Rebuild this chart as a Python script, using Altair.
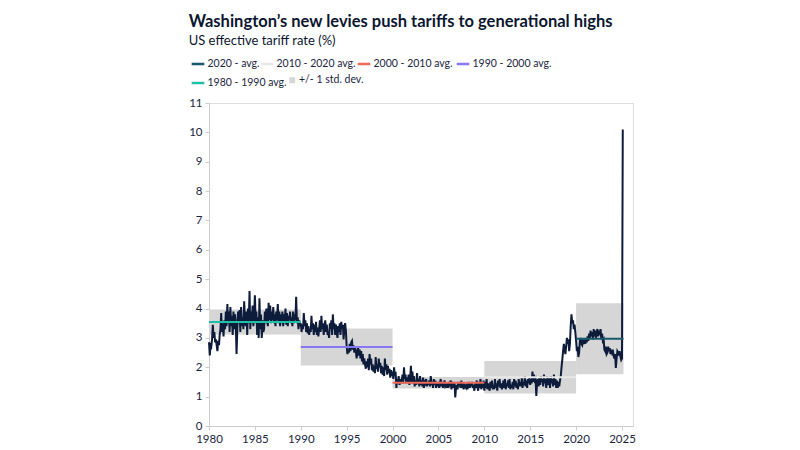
import altair as alt
import pandas as pd

# Monthly US effective tariff rate (%)
rate_1980s = [
    2.85, 2.4, 2.75, 2.7, 2.95, 3.45, 3.0, 3.2, 2.85, 2.95, 2.75, 2.55,
    2.9, 2.75, 3.1, 3.3, 3.85, 3.2, 3.5, 3.05, 3.6, 3.3, 3.9, 3.4,
    4.15, 3.5, 3.9, 3.2, 4.05, 3.4, 3.75, 3.1, 3.9, 3.3, 3.8, 3.5,
    2.45, 3.3, 3.9, 3.5, 3.95, 3.2, 4.05, 3.4, 3.7, 3.3, 4.25, 3.6,
    3.4, 3.9, 3.1, 4.0, 3.5, 4.6, 3.3, 3.9, 3.5, 4.1, 3.4, 3.8,
    4.45, 3.5, 3.9, 3.1, 3.7, 3.0, 4.35, 3.3, 3.8, 3.0, 3.6, 3.2,
    3.3, 3.9, 3.5, 4.0, 3.6, 3.4, 4.2, 3.6, 4.1, 3.5, 3.9, 3.6,
    4.05, 3.5, 3.8, 3.4, 3.9, 3.6, 4.15, 3.5, 3.9, 3.4, 3.8, 3.5,
    3.9, 3.4, 3.8, 3.5, 4.0, 3.45, 3.85, 3.4, 3.75, 3.6, 3.9, 3.5,
    3.7, 3.4, 3.9, 3.5, 3.8, 3.6, 4.4, 3.5, 3.7, 3.3, 3.6, 3.4,
]
rate_1990s = [
    3.5, 3.2, 3.45, 3.3, 3.85, 3.4, 3.6, 3.2, 3.5, 3.15, 3.4, 3.1,
    3.3, 3.2, 3.75, 3.3, 3.5, 3.1, 3.45, 3.2, 3.55, 3.1, 3.35, 3.05,
    3.3, 3.6, 3.2, 3.75, 3.3, 3.5, 3.1, 3.4, 3.6, 3.2, 3.45, 3.1,
    3.2, 3.0, 3.5, 3.3, 3.6, 3.1, 3.8, 3.3, 3.5, 3.1, 3.45, 3.2,
    3.0, 3.4, 3.2, 3.5, 3.1, 3.55, 3.3, 3.45, 2.95, 3.3, 3.5, 3.25,
    2.7, 2.45, 2.6, 2.5, 2.8, 2.55, 2.85, 2.9, 2.6, 2.75, 2.5, 2.65,
    2.55, 2.3, 2.5, 2.7, 2.4, 2.6, 2.3, 2.55, 2.2, 2.45, 2.1, 2.3,
    2.1, 1.95, 2.2, 2.0, 2.3, 1.9, 2.45, 2.1, 2.3, 1.9, 2.1, 1.85,
    2.05, 1.8, 2.35, 1.95, 2.1, 1.85, 2.3, 2.0, 2.15, 1.8, 2.05, 1.75,
    2.0, 1.7, 2.3, 1.9, 2.1, 1.75, 2.05, 1.8, 1.95, 1.65, 1.9, 1.7,
]
rate_2000s = [
    1.85, 1.6, 2.0, 1.7, 1.85, 1.3, 1.6, 1.45, 1.7, 1.4, 1.6, 1.5,
    1.55, 1.75, 1.45, 2.0, 1.6, 1.75, 1.45, 1.65, 1.5, 1.75, 1.4, 1.6,
    2.05, 1.5, 1.85, 1.45, 1.7, 1.35, 1.55, 1.4, 1.8, 1.45, 1.6, 1.35,
    1.7, 1.4, 1.55, 1.35, 1.65, 1.3, 1.5, 1.45, 1.6, 1.35, 1.5, 1.4,
    1.55, 1.35, 1.7, 1.4, 1.5, 1.3, 1.6, 1.4, 1.55, 1.3, 1.45, 1.35,
    1.5, 1.3, 1.45, 1.6, 1.35, 1.5, 1.3, 1.45, 1.55, 1.35, 1.4, 1.3,
    1.45, 1.3, 1.5, 1.35, 1.55, 1.25, 1.45, 1.4, 1.3, 1.5, 0.97, 1.3,
    1.4, 1.25, 1.5, 1.35, 1.45, 1.3, 1.55, 1.3, 1.45, 1.25, 1.4, 1.35,
    1.3, 1.45, 1.25, 1.4, 1.5, 1.3, 1.45, 1.35, 1.5, 1.3, 1.4, 1.2,
    1.45, 1.3, 1.55, 1.35, 1.2, 1.5, 1.3, 1.6, 1.25, 1.45, 1.3, 1.55,
]
rate_2010s = [
    1.2, 1.5, 1.3, 1.6, 1.25, 1.45, 1.35, 1.2, 1.5, 1.3, 1.55, 1.25,
    1.4, 1.25, 1.6, 1.3, 1.45, 1.2, 1.55, 1.35, 1.6, 1.3, 1.45, 1.25,
    1.35, 1.55, 1.3, 1.6, 1.25, 1.45, 1.35, 1.55, 1.3, 1.6, 1.25, 1.4,
    1.3, 1.5, 1.25, 1.6, 1.35, 1.55, 1.3, 1.45, 1.25, 1.6, 1.35, 1.5,
    1.35, 1.65, 1.3, 1.5, 1.4, 1.7, 1.35, 1.55, 1.3, 1.6, 1.45, 1.65,
    1.4, 1.6, 1.45, 1.85, 1.5, 1.75, 1.55, 1.6, 1.02, 1.45, 1.6, 1.35,
    1.65, 1.4, 1.7, 1.5, 1.6, 1.35, 1.75, 1.45, 1.6, 1.3, 1.7, 1.5,
    1.4, 1.65, 1.3, 1.7, 1.45, 1.6, 1.35, 1.75, 1.4, 1.6, 1.3, 1.55,
    1.3, 1.5, 1.35, 1.55, 1.7, 2.0, 2.25, 2.55, 2.8, 2.6, 2.45, 2.7,
    3.0, 2.8, 2.95, 2.55, 2.8, 3.4, 3.8, 3.5, 3.6, 3.3, 3.45, 3.2,
]
rate_2020s = [
    2.9, 2.55, 2.7, 2.35, 2.5, 2.9, 3.0, 2.8, 2.75, 2.9, 2.85, 2.95,
    2.8, 2.95, 2.85, 3.05, 2.9, 3.15, 3.0, 3.25, 3.05, 3.2, 2.95, 3.3,
    3.05, 3.25, 3.0, 3.2, 3.3, 3.05, 3.25, 3.1, 3.3, 2.95, 3.15, 2.9,
    2.95, 2.6, 2.55, 2.7, 2.45, 2.5, 2.7, 2.55, 2.65, 2.45, 2.6, 2.5,
    2.6, 2.4, 2.3, 2.45, 1.98, 2.3, 2.55, 2.5, 2.4, 2.55, 2.35, 2.25,
    2.3, 10.1,
]

period_labels = ["1980 - 1990 avg.", "1990 - 2000 avg.", "2000 - 2010 avg.",
                 "2010 - 2020 avg.", "2020 - avg."]
period_colors = ["#1fc1a6", "#8677f2", "#f0695a", "#e8e8e8", "#17586a"]
period_start = ["1980-01-01", "1990-01-01", "2000-01-01", "2010-01-01", "2020-01-01"]
period_end = ["1990-01-01", "2000-01-01", "2010-01-01", "2020-01-01", "2025-03-01"]
period_avg = [3.54, 2.69, 1.475, 1.66, 2.97]
period_sd = [0.425, 0.63, 0.195, 0.55, 1.21]
SD_LABEL = "+/- 1 std. dev."
SD_COLOR = "#d6d6d6"

rates = rate_1980s + rate_1990s + rate_2000s + rate_2010s + rate_2020s
series = pd.DataFrame({
    "date": pd.date_range("1980-01-01", periods=len(rates), freq="MS"),
    "rate": rates,
})
periods = pd.DataFrame({
    "label": period_labels,
    "start": pd.to_datetime(period_start),
    "end": pd.to_datetime(period_end),
    "avg": period_avg,
    "sd": period_sd,
})
periods["lo"] = periods["avg"] - periods["sd"]
periods["hi"] = periods["avg"] + periods["sd"]
periods["box"] = SD_LABEL

FONT = "Lato"
NAVY = "#0e1c3b"
TEXT = "#1b2540"

x_scale = alt.Scale(domain=[alt.DateTime(year=1980, month=1, date=1),
                            alt.DateTime(year=2026, month=3, date=15)], nice=False)
y_scale = alt.Scale(domain=[0, 11], nice=False)

x_axis = alt.Axis(
    title=None, format="%Y", grid=False, labelFont=FONT, labelFontSize=11.5,
    labelColor=TEXT, domainColor="#cccccc", tickColor="#cccccc", tickSize=4,
    labelPadding=3,
    values=[alt.DateTime(year=y, month=1, date=1) for y in range(1980, 2030, 5)],
    labelFlush=False,
)
y_axis = alt.Axis(
    title=None, grid=False, labelFont=FONT, labelFontSize=11.5, labelColor=TEXT,
    domainColor="#cccccc", tickColor="#cccccc", tickSize=4, labelPadding=3,
    values=list(range(0, 12)), labelOverlap=False,
)


def item_legend(x, y, **kw):
    return alt.Legend(orient="none", legendX=x, legendY=y, title=None,
                      labelFont=FONT, labelFontSize=10.5, labelColor=TEXT,
                      labelOffset=1.5, **kw)


ROW1, ROW2 = -47, -28
# legend placement and the channel that carries each period's entry
legend_slots = {
    "2020 - avg.": ("color", -19, ROW1),
    "2010 - 2020 avg.": ("stroke", 50, ROW1),
    "2000 - 2010 avg.": ("strokeDash", 147, ROW1),
    "1990 - 2000 avg.": ("color", 246, ROW1),
    "1980 - 1990 avg.": ("opacity", -19, ROW2),
}

boxes = alt.Chart(periods).mark_rect(opacity=1).encode(
    x=alt.X("start:T", scale=x_scale, axis=x_axis),
    x2="end:T",
    y=alt.Y("lo:Q", scale=y_scale, axis=y_axis),
    y2="hi:Q",
    fill=alt.Fill("box:N", scale=alt.Scale(domain=[SD_LABEL], range=[SD_COLOR]),
                  legend=item_legend(78, ROW2, symbolType="square", symbolSize=36,
                                     symbolStrokeWidth=0)),
)

line = alt.Chart(series).mark_line(color=NAVY, strokeWidth=2).encode(
    x=alt.X("date:T", scale=x_scale, axis=x_axis),
    y=alt.Y("rate:Q", scale=y_scale, axis=y_axis),
)

layers = [boxes, line]
for label, col in zip(period_labels, period_colors):
    channel, lx, ly = legend_slots[label]
    leg = item_legend(lx, ly, symbolType="stroke", symbolSize=160,
                      symbolStrokeWidth=2.5, symbolStrokeColor=col)
    base = alt.Chart(periods).transform_filter(alt.datum.label == label)
    enc = dict(
        x=alt.X("start:T", scale=x_scale, axis=x_axis),
        x2="end:T",
        y=alt.Y("avg:Q", scale=y_scale, axis=y_axis),
    )
    if channel == "color":
        enc["color"] = alt.Color("label:N", scale=alt.Scale(domain=[label], range=[col]),
                                 legend=leg)
        mark = base.mark_rule(strokeWidth=2)
    elif channel == "stroke":
        enc["stroke"] = alt.Stroke("label:N", scale=alt.Scale(domain=[label], range=[col]),
                                   legend=leg)
        mark = base.mark_rule(strokeWidth=2)
    elif channel == "strokeDash":
        enc["strokeDash"] = alt.StrokeDash("label:N",
                                           scale=alt.Scale(domain=[label], range=[[1, 0]]),
                                           legend=leg)
        mark = base.mark_rule(strokeWidth=2, color=col)
    else:
        enc["opacity"] = alt.Opacity("label:O",
                                     scale=alt.Scale(domain=[label], range=[1]),
                                     legend=leg)
        mark = base.mark_rule(strokeWidth=2, color=col)
    layers.append(mark.encode(**enc))

chart = alt.layer(*layers).resolve_scale(
    color="independent", stroke="independent", strokeDash="independent",
    opacity="independent", fill="independent",
).properties(
    width=424, height=323,
    padding={"left": 180, "top": 5, "right": 5, "bottom": 5},
    title=alt.TitleParams(
        text="Washington’s new levies push tariffs to generational highs",
        subtitle="US effective tariff rate (%)",
        anchor="start", frame="bounds", font=FONT, fontSize=16.5, fontWeight="bold",
        color="#0b1631", subtitleFont=FONT, subtitleFontSize=13,
        subtitleColor="#0b1631", subtitlePadding=5, offset=8,
    ),
).configure_view(stroke=None).configure(background="white")

chart.save("out.html", embed_options={"renderer": "svg", "actions": False})
